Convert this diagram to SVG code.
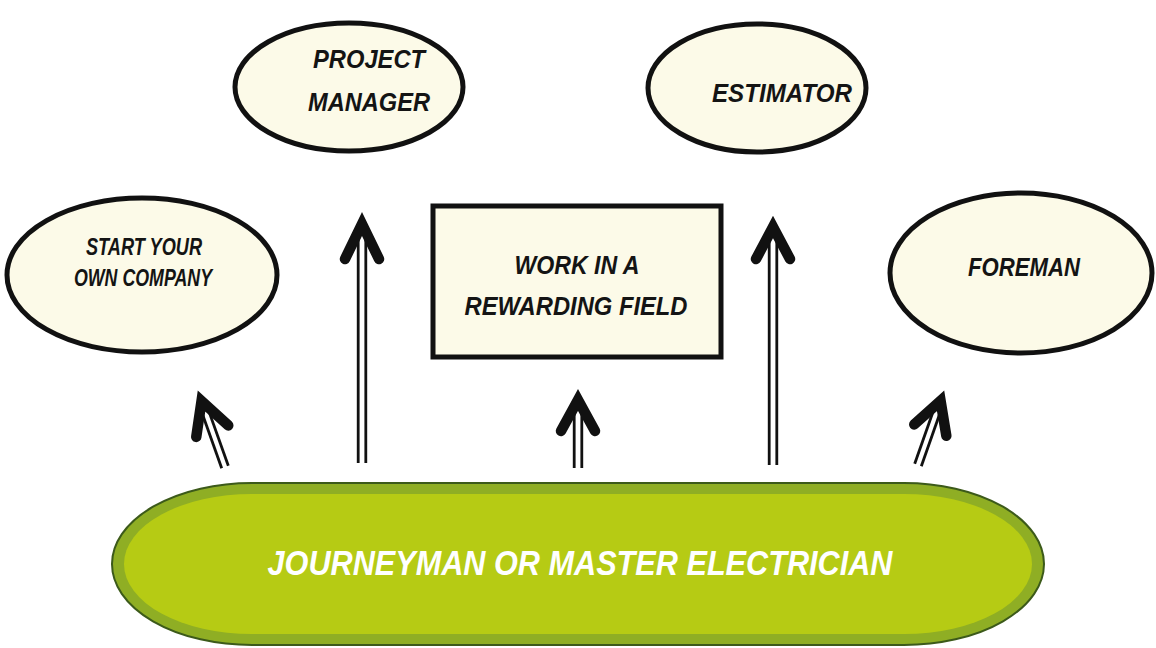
<svg xmlns="http://www.w3.org/2000/svg" width="1156" height="648" viewBox="0 0 1156 648">
<style>
.node{fill:#fcfae8;stroke:#111;stroke-width:5}
.lbl{font-family:"Liberation Sans",Arial,sans-serif;font-weight:bold;font-style:italic;fill:#141414;text-anchor:middle}
.head{fill:none;stroke:#111;stroke-width:10.5;stroke-linecap:round;stroke-linejoin:miter;stroke-miterlimit:10}
.shaft{stroke:#111;stroke-width:2.8}
.big{font-family:"Liberation Sans",Arial,sans-serif;font-weight:bold;font-style:italic;fill:#ffffff;text-anchor:middle}
</style>
<rect width="1156" height="648" fill="#ffffff"/>

<g id="project-manager">
<ellipse class="node" cx="349" cy="87" rx="114" ry="64"/>
<text class="lbl" x="369" y="68" font-size="25" textLength="112" lengthAdjust="spacingAndGlyphs">PROJECT</text>
<text class="lbl" x="369" y="111" font-size="25" textLength="122" lengthAdjust="spacingAndGlyphs">MANAGER</text>
</g>

<g id="estimator">
<ellipse class="node" cx="757" cy="88" rx="109" ry="64"/>
<text class="lbl" x="782" y="102" font-size="26" textLength="140" lengthAdjust="spacingAndGlyphs">ESTIMATOR</text>
</g>

<g id="start-company">
<ellipse class="node" cx="142" cy="275" rx="135" ry="77"/>
<text class="lbl" x="144" y="255" font-size="23" textLength="116" lengthAdjust="spacingAndGlyphs">START YOUR</text>
<text class="lbl" x="143" y="286" font-size="23" textLength="138" lengthAdjust="spacingAndGlyphs">OWN COMPANY</text>
</g>

<g id="rewarding-field">
<rect class="node" x="433" y="206" width="288" height="151"/>
<text class="lbl" x="577" y="274" font-size="26" textLength="125" lengthAdjust="spacingAndGlyphs">WORK IN A</text>
<text class="lbl" x="576" y="315" font-size="26" textLength="223" lengthAdjust="spacingAndGlyphs">REWARDING FIELD</text>
</g>

<g id="foreman">
<ellipse class="node" cx="1021" cy="273" rx="131" ry="80"/>
<text class="lbl" x="1024" y="276" font-size="25" textLength="112" lengthAdjust="spacingAndGlyphs">FOREMAN</text>
</g>

<g id="journeyman">
<rect x="112" y="483" width="932" height="162" rx="140" ry="81" fill="#8fae24" stroke="#3c5a1a" stroke-width="2"/>
<rect x="124" y="494" width="908" height="140" rx="128" ry="70" fill="#b6cb14"/>
<text class="big" x="580" y="575" font-size="35" textLength="625" lengthAdjust="spacingAndGlyphs">JOURNEYMAN OR MASTER ELECTRICIAN</text>
</g>

<g id="connectors">
<g transform="translate(225,467) rotate(-19.6)">
<line class="shaft" x1="-3.5" y1="0" x2="-3.5" y2="-66"/>
<line class="shaft" x1="3.5" y1="0" x2="3.5" y2="-66"/>
<polyline class="head" points="-17,-38 0,-70 17,-38"/>
</g>
<g transform="translate(362,463)">
<line class="shaft" x1="-3.8" y1="0" x2="-3.8" y2="-236"/>
<line class="shaft" x1="3.8" y1="0" x2="3.8" y2="-236"/>
<polyline class="head" points="-17,-204 0,-239 17,-204"/>
</g>
<g transform="translate(578,468)">
<line class="shaft" x1="-3.8" y1="0" x2="-3.8" y2="-66"/>
<line class="shaft" x1="3.8" y1="0" x2="3.8" y2="-66"/>
<polyline class="head" points="-17,-37 0,-68 17,-37"/>
</g>
<g transform="translate(773,465)">
<line class="shaft" x1="-3.8" y1="0" x2="-3.8" y2="-234"/>
<line class="shaft" x1="3.8" y1="0" x2="3.8" y2="-234"/>
<polyline class="head" points="-17,-206 0,-238 17,-206"/>
</g>
<g transform="translate(918,465) rotate(19.4)">
<line class="shaft" x1="-3.5" y1="0" x2="-3.5" y2="-64"/>
<line class="shaft" x1="3.5" y1="0" x2="3.5" y2="-64"/>
<polyline class="head" points="-17,-37 0,-68 17,-37"/>
</g>
</g>
</svg>
